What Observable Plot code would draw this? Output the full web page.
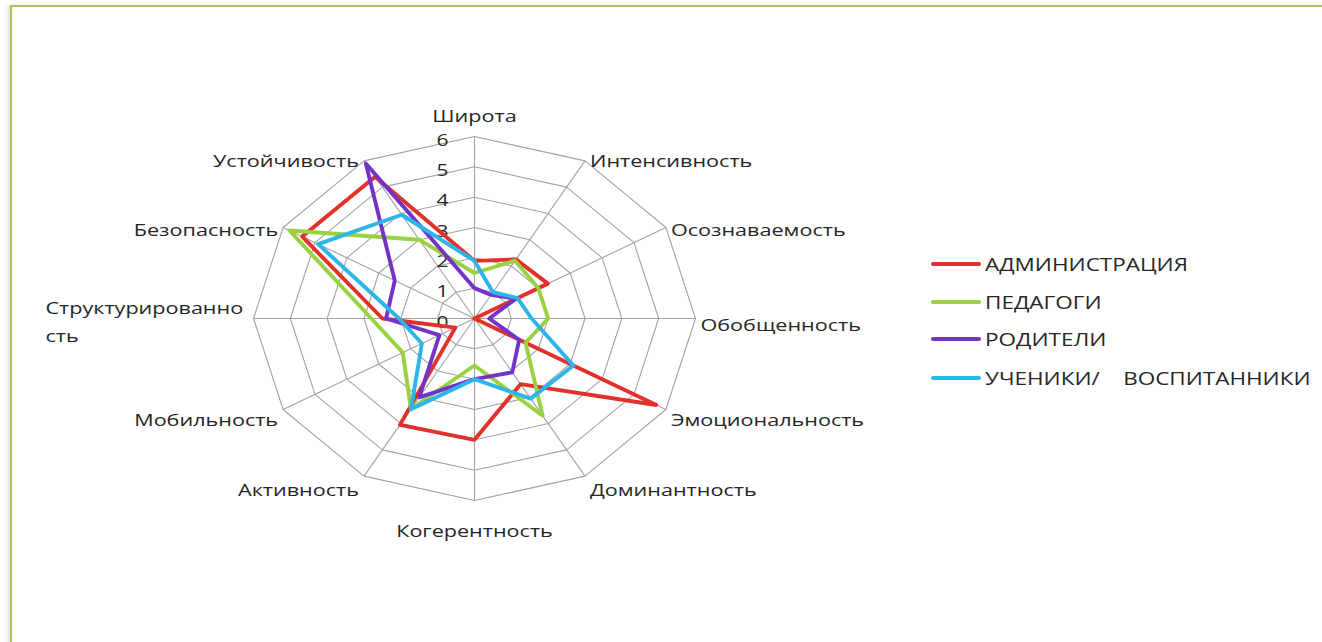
<!DOCTYPE html>
<html><head><meta charset="utf-8">
<script src="https://cdn.jsdelivr.net/npm/d3@7"></script>
<script src="https://cdn.jsdelivr.net/npm/@observablehq/plot@0.6"></script>
<style>
html,body{margin:0;padding:0;background:#fff;width:1322px;height:642px;overflow:hidden;font-family:"Open Sans",sans-serif;}
#frame{position:absolute;left:10px;top:5px;width:1400px;height:700px;border-left:2.5px solid #9cc75a;border-top:2.5px solid #9cc75a;box-shadow:-3px 0 4px rgba(0,0,0,0.10);}
#chart{position:absolute;left:0;top:0;}
#legend{position:absolute;left:931px;top:0;}
.item{position:absolute;left:0;height:20px;display:flex;align-items:center;white-space:pre;}
.sw{width:50px;height:3.8px;border-radius:2px;}
.lt{margin-left:4px;font-size:18px;color:#262626;transform:scaleX(1.25);transform-origin:left center;}
</style></head>
<body>
<div id="frame"></div>
<div id="chart"></div>
<div id="legend"></div>
<script>
const axes = ["Широта","Интенсивность","Осознаваемость","Обобщенность","Эмоциональность","Доминантность","Когерентность","Активность","Мобильность","Структурированность","Безопасность","Устойчивость"];
const axisLabels = ["Широта","Интенсивность","Осознаваемость","Обобщенность","Эмоциональность","Доминантность","Когерентность","Активность","Мобильность","Структурированно\nсть","Безопасность","Устойчивость"];
const seriesNames = ["АДМИНИСТРАЦИЯ","ПЕДАГОГИ","РОДИТЕЛИ","УЧЕНИКИ/    ВОСПИТАННИКИ"];
const administration = [1.9, 2.25, 2.3, 0, 5.7, 2.5, 4.0, 4.05, 0.6, 2.5, 5.4, 5.4];
const teachers       = [1.5, 2.2, 2.0, 2.0, 1.6, 3.7, 1.55, 3.45, 2.25, 2.8, 5.8, 3.0];
const parents        = [1.0, 0.9, 1.3, 0.4, 1.4, 2.05, 2.0, 3.0, 1.1, 2.4, 2.5, 5.9];
const students       = [1.9, 1.0, 1.35, 1.55, 3.1, 3.05, 2.0, 3.45, 1.65, 2.05, 4.9, 3.95];
const ticks = [0, 1, 2, 3, 4, 5, 6];
const colors = ["#e2312b", "#9ad13f", "#7433c8", "#2cb5e8"];

const seriesValues = [administration, teachers, parents, students];
const R = d3.max(ticks);
const n = axes.length;
const ang = i => 2 * Math.PI * i / n;
const sx = (v, i) => v * Math.sin(ang(i));
const sy = (v, i) => v * Math.cos(ang(i));

const seriesRows = seriesNames.flatMap((s, k) => seriesValues[k].map((v, i) => ({series: s, i, v})));
const ringRows = ticks.filter(t => t > 0).flatMap(t => axes.map((a, i) => ({t, i})));
const spokeRows = axes.map((a, i) => ({i}));

const labelMarks = axisLabels.map((lab, i) => {
  const s = Math.sin(ang(i)), c = Math.cos(ang(i));
  const side = Math.abs(s) < 1e-6 ? 0 : Math.sign(s);
  let anchor = side > 0 ? "start" : side < 0 ? "end" : "middle";
  let dx = side * 5, dy = side === 0 ? (c > 0 ? -23 : 28) : 4 - 8 * c;
  if (lab.includes("\n")) { anchor = "start"; dx = -208; dy = 0.5; }
  return Plot.text([lab], {x: R * s, y: R * c, text: d => d, textAnchor: anchor, dx, dy, lineHeight: 1.65, fontSize: 17, fill: "#262626"});
});

const plot = Plot.plot({
  width: 1322, height: 642, margin: 0,
  x: {domain: [-R, R], range: [253, 695], axis: null},
  y: {domain: [-R, R], range: [500, 136], axis: null},
  color: {domain: seriesNames, range: colors},
  style: {fontFamily: "'Open Sans', sans-serif", background: "transparent"},
  marks: [
    Plot.line(ringRows, {x: d => sx(d.t, d.i), y: d => sy(d.t, d.i), z: "t", curve: "linear-closed", stroke: "#a3a3a3", strokeWidth: 1.1}),
    Plot.link(spokeRows, {x1: 0, y1: 0, x2: d => sx(R, d.i), y2: d => sy(R, d.i), stroke: "#a3a3a3", strokeWidth: 1.1}),
    Plot.text(ticks, {x: 0, y: d => d, text: d => String(d), dx: -32, dy: 4, fontSize: 16.5, fill: "#262626"}),
    Plot.line(seriesRows, {x: d => sx(d.v, d.i), y: d => sy(d.v, d.i), z: "series", stroke: "series", curve: "linear-closed", strokeWidth: 3.9, strokeLinejoin: "round"}),
    ...labelMarks
  ]
});
plot.querySelectorAll("text").forEach(t => {
  const tr = t.getAttribute("transform") || "";
  t.setAttribute("transform", tr + " scale(1.27,1)");
});
document.getElementById("chart").appendChild(plot);

const legend = document.getElementById("legend");
const legendTops = [254, 292, 329, 368];
seriesNames.forEach((s, k) => {
  const it = document.createElement("div");
  it.className = "item";
  it.style.top = legendTops[k] + "px";
  const sw = document.createElement("div");
  sw.className = "sw"; sw.style.background = colors[k];
  const lt = document.createElement("span");
  lt.className = "lt"; lt.textContent = s;
  it.appendChild(sw); it.appendChild(lt);
  legend.appendChild(it);
});
</script>
</body></html>
